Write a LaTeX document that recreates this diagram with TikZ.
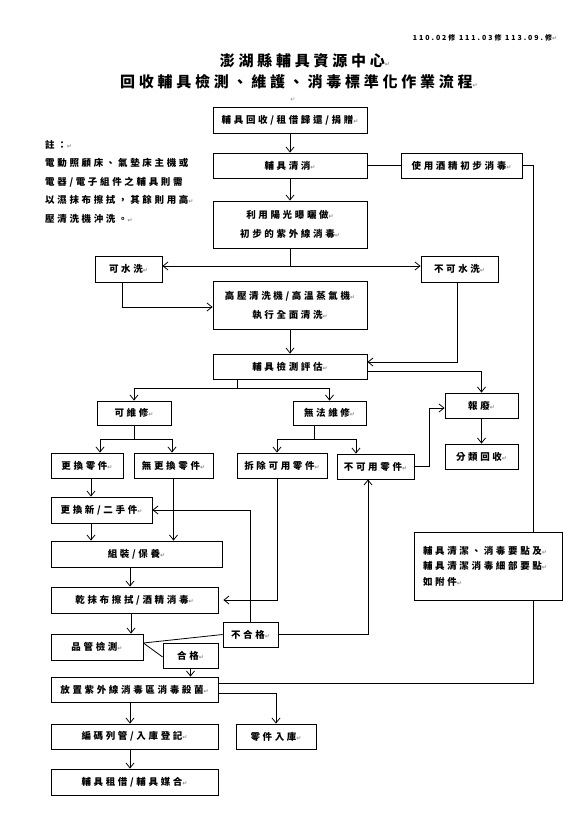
\documentclass[tikz,border=0pt]{standalone}
\usepackage{fontspec}
\usetikzlibrary{arrows.meta}
\newfontfamily\cjk{Noto Sans CJK TC}[LetterSpace=28]
\newfontfamily\cjkt{Noto Sans CJK TC}[LetterSpace=25]
\newfontfamily\djv{DejaVu Sans}
\newcommand\rt{{\djv\fontsize{6}{6}\selectfont\color{black!45}\char"21B5}}
\tikzset{
  box/.style={draw, line width=0.8pt, fill=white, inner sep=0pt, align=center,
    font=\cjk\bfseries\fontsize{9.5}{19}\selectfont},
  arr/.style={line width=0.8pt, -{Straight Barb[length=5pt,width=8pt]}},
  ln/.style={line width=0.8pt},
}
\begin{document}
\begin{tikzpicture}[x=1pt,y=-1pt]
\useasboundingbox (0,0) rectangle (586,832);
% header
\node[font=\cjk\bfseries\fontsize{7}{7}\selectfont] (ver) at (485,38) {110.02修 111.03修 113.09.修\rt};
\node[font=\cjkt\bfseries\fontsize{15}{15}\selectfont] (t1) at (305,61) {澎湖縣輔具資源中心\rt};
\node[font=\cjkt\bfseries\fontsize{15}{15}\selectfont] (t2) at (299,82) {回收輔具檢測、維護、消毒標準化作業流程\rt};
\node (em) at (293,100) {\rt};
% note
\node[anchor=north west, align=left, inner sep=0pt, font=\cjk\bfseries\fontsize{9.5}{18.5}\selectfont] (note) at (45,140)
  {註：\rt\\電動照顧床、氣墊床主機或\\電器/電子組件之輔具則需\\以濕抹布擦拭，其餘則用高\rt\\壓清洗機沖洗。\rt};
% boxes
\node[box, minimum width=154, minimum height=26] (a) at (290,120) {輔具回收/租借歸還/捐贈\rt};
\node[box, minimum width=154, minimum height=25] (qx) at (290,165.5) {輔具清消\rt};
\node[box, minimum width=121, minimum height=25] (alc) at (461.5,165.5) {使用酒精初步消毒\rt};
\node[box, minimum width=154, minimum height=47] (sun) at (290,224.5) {利用陽光曝曬做\rt\\初步的紫外線消毒\rt};
\node[box, minimum width=67, minimum height=26] (kw) at (128.5,269) {可水洗\rt};
\node[box, minimum width=77, minimum height=26] (bk) at (459.5,269) {不可水洗\rt};
\node[box, minimum width=154, minimum height=48] (gy) at (290,305) {高壓清洗機/高溫蒸氣機\rt\\執行全面清洗\rt};
\node[box, minimum width=154, minimum height=25] (jc) at (290,366.5) {輔具檢測評估\rt};
\node[box, minimum width=74, minimum height=24] (kwx) at (134,413) {可維修\rt};
\node[box, minimum width=73, minimum height=24] (wf) at (329.5,413) {無法維修\rt};
\node[box, minimum width=73, minimum height=25] (bf) at (481.5,405.5) {報廢\rt};
\node[box, minimum width=73, minimum height=25] (fl) at (481.5,456.5) {分類回收\rt};
\node[box, minimum width=72, minimum height=25] (ghl) at (87,465.5) {更換零件\rt};
\node[box, minimum width=79, minimum height=25] (wgh) at (173.5,465.5) {無更換零件\rt};
\node[box, minimum width=90, minimum height=25] (cc) at (282,465.5) {拆除可用零件\rt};
\node[box, minimum width=77, minimum height=25] (bky) at (375.5,466.5) {不可用零件\rt};
\node[box, minimum width=101, minimum height=26] (xin) at (101.5,510) {更換新/二手件\rt};
\node[box, minimum width=171, minimum height=26] (zz) at (136.5,554) {組裝/保養\rt};
\node[box, minimum width=167, minimum height=26] (gm) at (134.5,600) {乾抹布擦拭/酒精消毒\rt};
\node[box, minimum width=92, minimum height=26] (pg) at (97,647) {品管檢測\rt};
\node[box, minimum width=55, minimum height=25] (bh) at (250.5,634.5) {不合格\rt};
\node[box, minimum width=55, minimum height=25] (hg) at (190.5,655.5) {合格\rt};
\node[box, minimum width=167, minimum height=25] (fz) at (134.5,689.5) {放置紫外線消毒區消毒殺菌\rt};
\node[box, minimum width=80, minimum height=25] (lj) at (276,736.5) {零件入庫\rt};
\node[box, minimum width=167, minimum height=25] (bm) at (134.5,736.5) {編碼列管/入庫登記\rt};
\node[box, minimum width=167, minimum height=26] (zj) at (134.5,782) {輔具租借/輔具媒合\rt};
% connectors
\draw[arr] (a) -- (qx);
\draw[ln] (qx) -- (alc);
\draw[arr] (qx) -- (sun);
\coordinate (s1) at (290,266);
\draw[ln] (sun.south) -- (s1);
\draw[arr] (s1) -- (kw.east |- s1);
\draw[arr] (s1) -- (bk.west |- s1);
\draw[arr] ([xshift=-6.5pt]kw.south) |- ([yshift=-2pt]gy.west);
\draw[arr] (gy) -- (jc);
\draw[arr] ([xshift=-2.5pt]bk.south) |- ([yshift=4.5pt]jc.east);
\draw[arr] ([yshift=-4.5pt]jc.east) -| (bf.north);
\coordinate (j1) at (237,388);
\draw[ln] (j1 |- jc.south) -- (j1);
\draw[arr] (j1) -| (kwx.north);
\draw[arr] (j1) -| (wf.north);
\coordinate (j2) at (134,439);
\draw[ln] (kwx.south) -- (j2);
\draw[arr] (j2) -| ([xshift=13pt]ghl.north);
\draw[arr] (j2) -| ([xshift=-1.5pt]wgh.north);
\coordinate (j3) at (314,439);
\draw[ln] ([xshift=-15.5pt]wf.south) -- (j3);
\draw[arr] (j3) -| ([xshift=-5pt]cc.north);
\draw[arr] (j3) -| ([xshift=-19.5pt]bky.north);
\draw[arr] (bky.east) -- ++(15,0) |- ([yshift=-2.5pt]bf.west);
\draw[arr] (bf) -- (fl);
\draw[arr] ([xshift=4pt]ghl.south) -- ([xshift=4pt]ghl.south |- xin.north);
\draw[arr] ([xshift=-10.5pt]xin.south) -- ([xshift=-10.5pt]xin.south |- zz.north);
\draw[arr] (wgh.south) -- (wgh.south |- zz.north);
\draw[arr] ([xshift=-6.5pt]zz.south) -- ([xshift=-6.5pt]zz.south |- gm.north);
\draw[arr] ([xshift=-3.5pt]gm.south) -- ([xshift=-3.5pt]gm.south |- pg.north);
\draw[arr, shorten >=5pt] ([xshift=-5pt]cc.south) |- (gm.east);
\draw[ln] ([yshift=4pt]pg.east) -- (bh.west);
\draw[ln] ([yshift=4pt]pg.east) -- ([yshift=-1.5pt]hg.west);
\draw[arr] (hg.south) -- (hg.south |- fz.north);
\draw[arr] (bh.north) |- (xin.east);
\draw[arr] (bh.east) -| ([xshift=-7.5pt]bky.south);
\draw[ln] ([yshift=6.5pt]fz.east) -| ([xshift=11pt]alc.east) -- (alc.east);
\draw[arr] ([yshift=-3.5pt]fz.east) -| (lj.north);
\draw[arr] ([xshift=-4.5pt]fz.south) -- ([xshift=-4.5pt]fz.south |- bm.north);
\draw[arr] ([xshift=-4.5pt]bm.south) -- ([xshift=-4.5pt]bm.south |- zj.north);
% side note box (drawn over the line)
\node[box, align=left, anchor=center, minimum width=148, minimum height=68, text width=130,
  font=\cjk\bfseries\fontsize{9.5}{15.5}\selectfont] (yd) at (488,566)
  {輔具清潔、消毒要點及\rt\\輔具清潔消毒細部要點\rt\\如附件\rt};
\end{tikzpicture}
\end{document}
